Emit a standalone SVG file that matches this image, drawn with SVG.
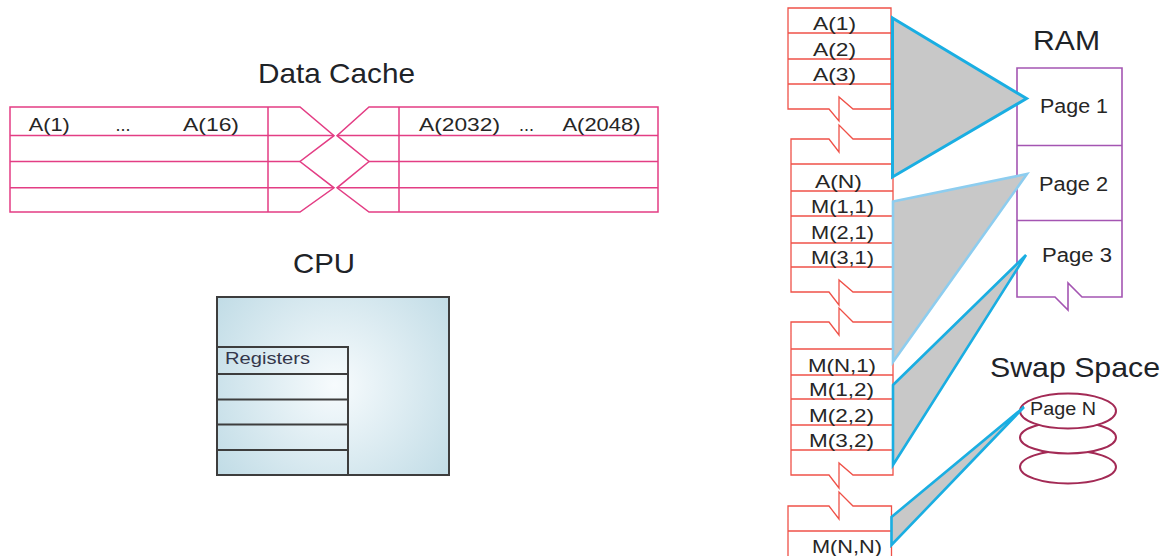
<svg xmlns="http://www.w3.org/2000/svg" width="1175" height="556" viewBox="0 0 1175 556">
<defs>
<radialGradient id="cpuGrad" gradientUnits="userSpaceOnUse" cx="335" cy="385" r="165">
<stop offset="0" stop-color="#f7fbfd"/>
<stop offset="1" stop-color="#bad8e3"/>
</radialGradient>
<style>
text{font-family:"Liberation Sans",Arial,sans-serif;fill:#262626}
.title{font-size:28px;fill:#1e2328}
.cell{font-size:19px}
.cache{fill:none;stroke:#e33d84;stroke-width:1.5}
.mem{fill:none;stroke:#ef5148;stroke-width:1.3}
.ram{fill:none;stroke:#a455b2;stroke-width:1.6}
.cpu{stroke:#3d3d3d;stroke-width:2}
.disk{fill:#fff;stroke:#a32a55;stroke-width:2}
.tri{fill:#c8c8c8;stroke:#1aaee2;stroke-width:2.6;stroke-linejoin:miter}
.tri2{fill:#c8c8c8;stroke:#8dcdef;stroke-width:2.6}
</style>
</defs>
<rect width="1175" height="556" fill="#fff"/>

<g id="data-cache">
<text class="title" x="258" y="83" textLength="157" lengthAdjust="spacingAndGlyphs">Data Cache</text>
<path class="cache" d="M300,107 H10 V212 H300 L334,187.8 L300,161.5 L334,135.6 Z"/>
<path class="cache" d="M10,135.6 H334 M10,161.5 H300 M10,187.8 H334 M268,107 V212"/>
<path class="cache" d="M369,107 H658 V212 H369 L337,187.8 L369,161.5 L337,135.6 Z"/>
<path class="cache" d="M337,135.6 H658 M369,161.5 H658 M337,187.8 H658 M399,107 V212"/>
<text class="cell" x="28.7" y="131" textLength="41" lengthAdjust="spacingAndGlyphs">A(1)</text>
<text class="cell" x="115.5" y="131" textLength="15" lengthAdjust="spacingAndGlyphs">...</text>
<text class="cell" x="183" y="131" textLength="56" lengthAdjust="spacingAndGlyphs">A(16)</text>
<text class="cell" x="419" y="131" textLength="81" lengthAdjust="spacingAndGlyphs">A(2032)</text>
<text class="cell" x="519" y="131" textLength="15" lengthAdjust="spacingAndGlyphs">...</text>
<text class="cell" x="562.5" y="131" textLength="78" lengthAdjust="spacingAndGlyphs">A(2048)</text>
</g>

<g id="cpu">
<text class="title" x="293" y="273" textLength="62" lengthAdjust="spacingAndGlyphs">CPU</text>
<rect class="cpu" x="217" y="297" width="232" height="178" fill="url(#cpuGrad)"/>
<rect class="cpu" x="217" y="347" width="131" height="128" fill="none"/>
<path class="cpu" fill="none" d="M217,374 H348 M217,399.5 H348 M217,424.5 H348 M217,450 H348"/>
<text x="225" y="364" font-size="17" textLength="85" lengthAdjust="spacingAndGlyphs" style="fill:#34364a">Registers</text>
</g>

<g id="memory-column">
<path class="mem" d="M891,109 V8 H788 V109 H829 L839,121 V97 L853,109 Z"/>
<path class="mem" d="M788,33 H891 M788,59 H891 M788,84 H891"/>
<path class="mem" d="M791,292 V139 H829 L839,152 V125 L853,139 H893 V292 H853 L839,280 V305 L829,292 Z"/>
<path class="mem" d="M791,164 H893 M791,191 H893 M791,216 H893 M791,243 H893 M791,267 H893"/>
<path class="mem" d="M791,475 V322 H829 L839,335 V308 L853,322 H893 V475 H853 L839,463 V488 L829,475 Z"/>
<path class="mem" d="M791,349 H893 M791,375 H893 M791,399 H893 M791,425 H893 M791,450 H893"/>
<path class="mem" d="M788,560 V506 H829 L839,519 V492 L853,506 H891.5 V560"/>
<path class="mem" d="M788,531 H891.5"/>
<text class="cell" x="813" y="29.5" textLength="43" lengthAdjust="spacingAndGlyphs">A(1)</text>
<text class="cell" x="813" y="55.5" textLength="43" lengthAdjust="spacingAndGlyphs">A(2)</text>
<text class="cell" x="813" y="80.5" textLength="43" lengthAdjust="spacingAndGlyphs">A(3)</text>
<text class="cell" x="815" y="188" textLength="47" lengthAdjust="spacingAndGlyphs">A(N)</text>
<text class="cell" x="811" y="212.5" textLength="63" lengthAdjust="spacingAndGlyphs">M(1,1)</text>
<text class="cell" x="811" y="238.5" textLength="63" lengthAdjust="spacingAndGlyphs">M(2,1)</text>
<text class="cell" x="811" y="264" textLength="63" lengthAdjust="spacingAndGlyphs">M(3,1)</text>
<text class="cell" x="808" y="371.5" textLength="68" lengthAdjust="spacingAndGlyphs">M(N,1)</text>
<text class="cell" x="809" y="396" textLength="65" lengthAdjust="spacingAndGlyphs">M(1,2)</text>
<text class="cell" x="809" y="421.5" textLength="65" lengthAdjust="spacingAndGlyphs">M(2,2)</text>
<text class="cell" x="809" y="446.5" textLength="65" lengthAdjust="spacingAndGlyphs">M(3,2)</text>
<text class="cell" x="812" y="553" textLength="70" lengthAdjust="spacingAndGlyphs">M(N,N)</text>
</g>

<g id="ram">
<text class="title" x="1033" y="50" textLength="67" lengthAdjust="spacingAndGlyphs">RAM</text>
<path class="ram" d="M1017,297 V68 H1122 V297 H1082 L1068,283 V310 L1055,297 Z"/>
<path class="ram" d="M1017,145.5 H1122 M1017,220.5 H1122"/>
<text x="1040" y="113" font-size="20" textLength="68" lengthAdjust="spacingAndGlyphs">Page 1</text>
<text x="1039" y="191" font-size="20" textLength="69" lengthAdjust="spacingAndGlyphs">Page 2</text>
<text x="1042" y="262" font-size="20" textLength="70" lengthAdjust="spacingAndGlyphs">Page 3</text>
</g>

<g id="swap-space">
<text class="title" x="990" y="377" textLength="170" lengthAdjust="spacingAndGlyphs">Swap Space</text>
<ellipse class="disk" cx="1068" cy="467" rx="48" ry="16.5"/>
<ellipse class="disk" cx="1068" cy="437.5" rx="48" ry="16"/>
<ellipse class="disk" cx="1068" cy="411" rx="48" ry="17.5"/>
<text x="1030" y="415" font-size="18" textLength="66" lengthAdjust="spacingAndGlyphs">Page N</text>
</g>

<g id="connectors">
<polygon class="tri" points="892.5,18 1026.5,98.5 892.5,177" style="stroke-width:3"/>
<polygon class="tri2" points="893,201.5 1027,174 893,362"/>
<polygon class="tri" points="893,385 1026,255 893,465"/>
<polygon class="tri" points="891.5,517 1024,407 891.5,545"/>
</g>
</svg>
